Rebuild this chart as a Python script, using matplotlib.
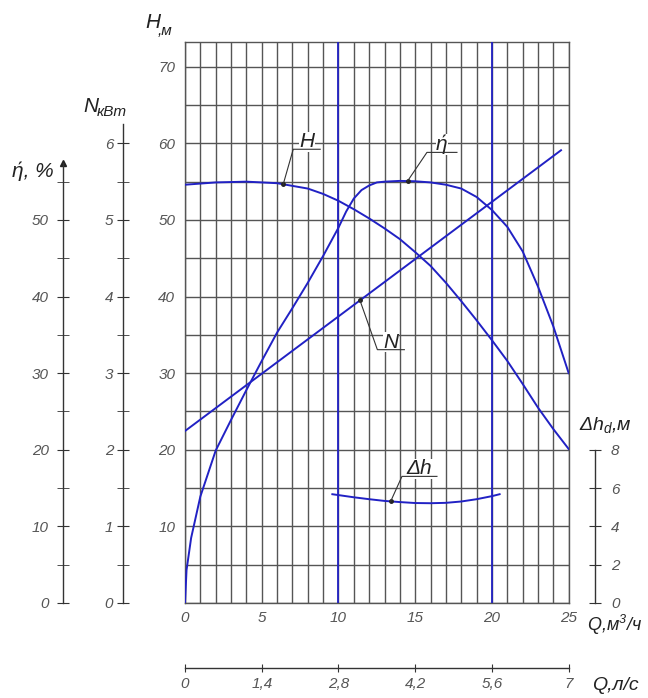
import numpy as np
import matplotlib
matplotlib.use("Agg")
import matplotlib.pyplot as plt
from matplotlib.lines import Line2D
from matplotlib.ticker import FixedLocator, MultipleLocator
from matplotlib.transforms import blended_transform_factory

# ---------------------------------------------------------------------------
# pump curves (Q in m3/h)
# ---------------------------------------------------------------------------
q_head = [0, 2, 4, 6, 8, 9, 10, 11, 12, 13, 14, 15, 16, 17, 18, 19, 20, 21, 22, 23, 24, 25]
head = [54.6, 54.9, 55.0, 54.8, 54.1, 53.4, 52.5, 51.4, 50.2, 48.9, 47.5, 45.8, 44.0,
        41.8, 39.4, 36.9, 34.3, 31.6, 28.6, 25.5, 22.7, 20.1]

q_eff = [0, 0.1, 0.4, 1, 1.5, 2, 3, 4, 5, 6, 7, 8, 9, 10, 10.5, 11, 11.5, 12, 12.5, 13,
         14, 15, 16, 17, 18, 19, 20, 21, 22, 23, 24, 25]
eff = [0, 4.3, 8.5, 13.9, 16.9, 19.9, 23.9, 27.8, 31.6, 35.3, 38.5, 41.8, 45.3, 49.0,
       51.1, 52.8, 53.9, 54.5, 54.9, 55.0, 55.1, 55.05, 54.9, 54.6, 54.1, 53.0, 51.3,
       49.1, 45.9, 41.3, 36.1, 30.0]

q_power = [0, 24.5]
power = [2.245, 5.91]

q_npsh = [9.6, 11, 12, 13, 14, 15, 16, 17, 18, 19, 20, 20.5]
npsh = [5.68, 5.52, 5.42, 5.33, 5.27, 5.22, 5.21, 5.23, 5.30, 5.42, 5.58, 5.68]

q_marks = [10, 20]          # blue working-range lines

h_ticks = [10, 20, 30, 40, 50, 60, 70]
n_ticks = [0, 1, 2, 3, 4, 5, 6]
n_minor = [0.5, 1.5, 2.5, 3.5, 4.5, 5.5]
eff_ticks = [0, 10, 20, 30, 40, 50]
eff_minor = [5, 15, 25, 35, 45, 55]
dh_ticks = [0, 2, 4, 6, 8]
q_ticks = [0, 5, 10, 15, 20, 25]
qls_ticks = [0, 1.4, 2.8, 4.2, 5.6, 7]
qls_labels = ["0", "1,4", "2,8", "4,2", "5,6", "7"]

# ---------------------------------------------------------------------------
W, H = 648, 698
BLUE = "#2121c4"
INK = "#333333"
TICK_TXT = "#555555"
TS = 11   # tick label size

plt.rcParams["font.family"] = ["Liberation Sans", "DejaVu Sans"]
plt.rcParams["font.style"] = "italic"
plt.rcParams["mathtext.fontset"] = "custom"
plt.rcParams["mathtext.rm"] = "Liberation Sans"
plt.rcParams["mathtext.it"] = "Liberation Sans:italic"

fig = plt.figure(figsize=(W / 100, H / 100), dpi=100)
ax = fig.add_axes([185 / W, 95 / H, 383.7 / W, 561.3 / H])
ax.set_xlim(0, 25)
ax.set_ylim(0, 73.27)

ax.xaxis.set_major_locator(FixedLocator(q_ticks))
ax.xaxis.set_minor_locator(MultipleLocator(1))
ax.yaxis.set_major_locator(FixedLocator(h_ticks))
ax.yaxis.set_minor_locator(MultipleLocator(5))
ax.grid(True, which="both", color="#555555", lw=1.0)
ax.tick_params(which="both", length=0, labelsize=TS, labelcolor=TICK_TXT)
ax.tick_params(axis="x", pad=6)
ax.tick_params(axis="y", pad=7)
for s in ax.spines.values():
    s.set_color("#555555")
    s.set_linewidth(1.0)


def side_axis(twin, where, pos):
    for name, s in twin.spines.items():
        s.set_visible(name == where)
    twin.spines[where].set_position(("axes", pos))
    twin.spines[where].set_color(INK)
    twin.spines[where].set_linewidth(1.0)


# N, kW
axN = ax.twinx()
axN.set_ylim(0, 7.327)
side_axis(axN, "left", -0.1616)
axN.spines["left"].set_bounds(0, 6.25)
axN.yaxis.set_ticks_position("left")
axN.yaxis.set_major_locator(FixedLocator(n_ticks))
axN.yaxis.set_minor_locator(FixedLocator(n_minor))
axN.tick_params(which="both", direction="inout", length=8, color=INK,
                labelsize=TS, labelcolor=TICK_TXT, pad=3)

# efficiency, %
axE = ax.twinx()
axE.set_ylim(0, 73.27)
side_axis(axE, "left", -0.318)
axE.spines["left"].set_bounds(0, 57.4)
axE.yaxis.set_ticks_position("left")
axE.yaxis.set_major_locator(FixedLocator(eff_ticks))
axE.yaxis.set_minor_locator(FixedLocator(eff_minor))
axE.tick_params(which="both", direction="inout", length=8, color=INK,
                labelsize=TS, labelcolor=TICK_TXT, pad=6)
tr = blended_transform_factory(axE.transAxes, axE.transData)
axE.plot([-0.318], [57.4], marker="^", ms=4, color="#222222",
         transform=tr, clip_on=False)

# NPSH, m
axD = ax.twinx()
axD.set_ylim(0, 73.27 * 8 / 20)
side_axis(axD, "right", 1.0686)
axD.spines["right"].set_bounds(0, 8)
axD.yaxis.set_ticks_position("right")
axD.yaxis.set_major_locator(FixedLocator(dh_ticks))
axD.tick_params(which="both", direction="inout", length=9, color=INK,
                labelsize=TS, labelcolor=TICK_TXT, pad=7)

# Q, l/s
axQ = ax.twiny()
axQ.set_xlim(0, 7)
side_axis(axQ, "bottom", -0.1153)
axQ.xaxis.set_ticks_position("bottom")
axQ.set_xticks(qls_ticks)
axQ.set_xticklabels(qls_labels)
axQ.tick_params(direction="inout", length=6, color=INK,
                labelsize=TS, labelcolor=TICK_TXT, pad=4)

# curves
for q in q_marks:
    ax.axvline(q, color=BLUE, lw=1.3, zorder=3)
ax.plot(q_head, head, color=BLUE, lw=1.4, zorder=4)
axE.plot(q_eff, eff, color=BLUE, lw=1.4, zorder=4)
axN.plot(q_power, power, color=BLUE, lw=1.4, zorder=4)
axD.plot(q_npsh, npsh, color=BLUE, lw=1.4, zorder=4)


def callout(a, qx, qs, vs, dx, dy, width, label, size=15):
    val = np.interp(qx, qs, vs)
    px, py = a.transData.transform((qx, val))
    inv = fig.transFigure.inverted()
    p0 = inv.transform((px, py))
    p1 = inv.transform((px + dx, py + dy))
    p2 = inv.transform((px + dx + width, py + dy))
    c = inv.transform((px + dx + width * 0.5, py + dy + 2))
    fig.text(c[0], c[1], label, ha="center", va="baseline", fontsize=size,
             color="#222222", zorder=7,
             bbox=dict(fc="white", ec="none", pad=0.5))
    fig.add_artist(Line2D([p0[0], p1[0], p2[0]], [p0[1], p1[1], p2[1]],
                          lw=0.8, color=INK, transform=fig.transFigure, zorder=8))
    a.plot([qx], [val], "o", ms=2.5, color="#222222", zorder=6)


callout(ax, 6.4, q_head, head, 10, 35, 27, "H")
callout(axE, 14.5, q_eff, eff, 19.4, 28.7, 30, "ή")
callout(axN, 11.4, q_power, power, 17.4, -49.3, 27, "N")
callout(axD, 13.4, q_npsh, npsh, 11.3, 25, 35, "Δh")


def label(px, py, s, size=14, ha="left"):
    fig.text(px / W, 1 - py / H, s, fontsize=size, ha=ha, va="center",
             color="#222222")


label(145, 23, "H", 15)
label(158, 31, ",м", 11)
label(83, 106, "N", 15)
label(97, 112, "кВт", 11)
label(12, 171, "ή, %", 15)
label(579, 425, "Δh$_d$,м", 14)
label(587, 625, "Q,м$^3$/ч", 13)
label(592, 686, "Q,л/с", 14)

fig.savefig("out.png", dpi=100)
